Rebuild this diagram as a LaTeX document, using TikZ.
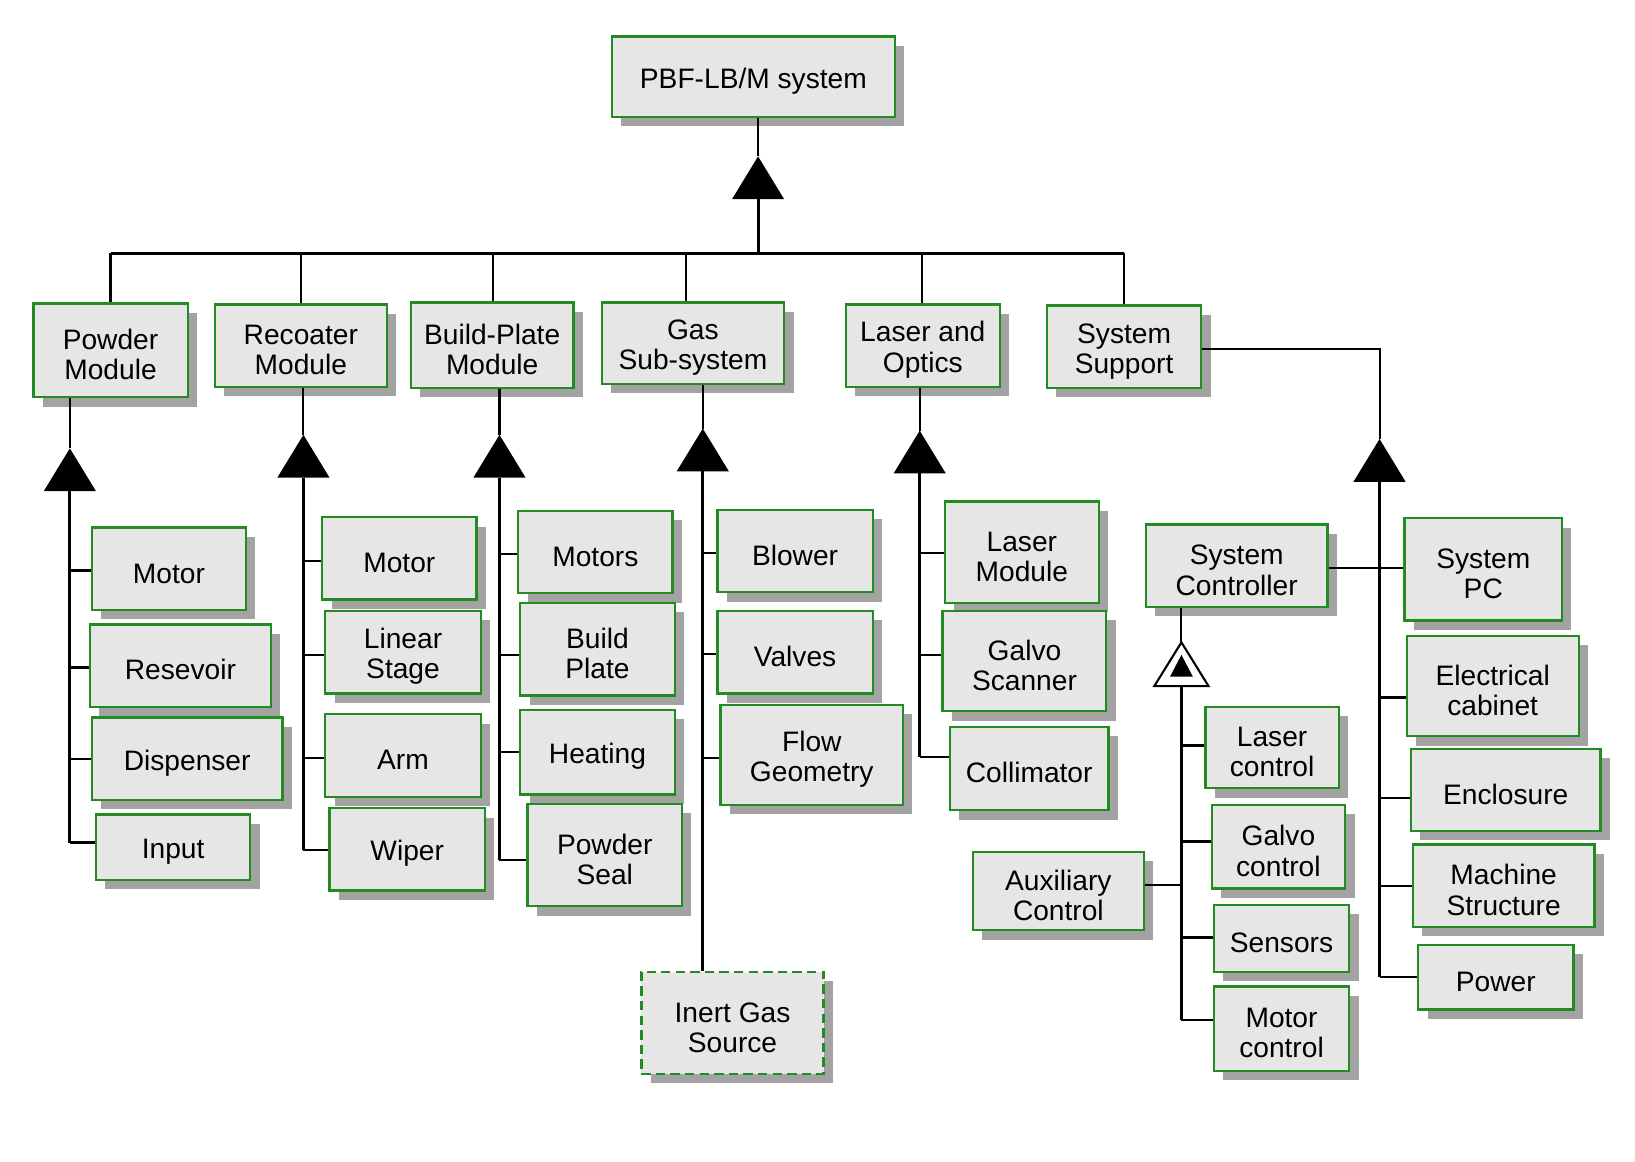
\documentclass[tikz,border=0pt]{standalone}
\usepackage{fontspec}
\setmainfont{Liberation Sans}
\usetikzlibrary{shadows}
\definecolor{boxfill}{HTML}{E6E6E6}
\definecolor{boxline}{RGB}{34,139,34}
\definecolor{shade}{HTML}{A3A3A3}
\newcommand\solidtri[1]{\fill (#1) -- ++(-25,41) -- ++(50,0) -- cycle;}
\newcommand\st{\rule{0pt}{27.5bp}}
\begin{document}
\begin{tikzpicture}[x=1bp,y=-1bp,
  box/.style={draw=boxline, line width=2.2bp, fill=boxfill, inner sep=0pt, align=center,
    font=\fontsize{27bp}{29bp}\selectfont,
    general shadow={shadow xshift=9bp, shadow yshift=-9bp, fill=shade, draw=none}},
  wh/.style 2 args={minimum width=#1bp, minimum height=#2bp},
  dashbox/.style={dash pattern=on 9bp off 5bp, line width=2.5bp},
  bus/.style={line width=3bp, black},
  spine/.style={line width=2.8bp, black},
  branch/.style={line width=2.2bp, black},
  conn/.style={line width=2bp, black}]
\useasboundingbox (0,0) rectangle (1568,1114);

% ---------- nodes ----------
\node[box,wh={271}{77}] (top) at (722.5,73.5) {\st PBF-LB/M system};

\node[box,wh={148}{90}] (pm) at (106,336) {\st Powder\\Module};
\node[box,wh={165}{79}] (rm) at (288.5,331.5) {\st Recoater\\Module};
\node[box,wh={156}{82}] (bm) at (472,331) {\st Build-Plate\\Module};
\node[box,wh={175}{78}] (gs) at (664.5,329) {\st Gas\\Sub-system};
\node[box,wh={148}{79}] (lo) at (885,331.5) {\st Laser and\\Optics};
\node[box,wh={148}{79}] (ss) at (1078,332.5) {\st System\\Support};

\node[box,wh={148}{79}] (pm1) at (162,545.5) {\st Motor};
\node[box,wh={174}{79}] (pm2) at (173,638.5) {\st Resevoir};
\node[box,wh={183}{79}] (pm3) at (179.5,727.5) {\st Dispenser};
\node[box,wh={148}{63}] (pm4) at (166,812.5) {\st Input};

\node[box,wh={148}{79}] (rm1) at (383,535.5) {\st Motor};
\node[box,wh={149}{79}] (rm2) at (386.5,625.5) {\st Linear\\Stage};
\node[box,wh={149}{79}] (rm3) at (386.5,724.5) {\st Arm};
\node[box,wh={149}{79}] (rm4) at (390.5,814.5) {\st Wiper};

\node[box,wh={148}{79}] (bm1) at (571,529.5) {\st Motors};
\node[box,wh={148}{89}] (bm2) at (573,622.5) {\st Build\\Plate};
\node[box,wh={148}{81}] (bm3) at (573,721.5) {\st Heating};
\node[box,wh={148}{98}] (bm4) at (580,820) {\st Powder\\Seal};

\node[box,wh={149}{79}] (gs1) at (762.5,528.5) {\st Blower};
\node[box,wh={149}{79}] (gs2) at (762.5,625.5) {\st Valves};
\node[box,wh={175}{96}] (gs3) at (778.5,724) {\st Flow\\Geometry};
\node[box,dashbox,wh={175}{98}] (gs4) at (702.5,981) {\st Inert Gas\\Source};

\node[box,wh={148}{97}] (lo1) at (980,529.5) {\st Laser\\Module};
\node[box,wh={157}{96}] (lo2) at (982.5,634) {\st Galvo\\Scanner};
\node[box,wh={152}{80}] (lo3) at (987,737) {\st Collimator};

\node[box,wh={151}{98}] (ss1) at (1422.5,546) {\st System\\PC};
\node[box,wh={165}{96}] (ss2) at (1431.5,658) {\st Electrical\\cabinet};
\node[box,wh={182}{79}] (ss3) at (1444,757.5) {\st Enclosure};
\node[box,wh={174}{79}] (ss4) at (1442,849.5) {\st Machine\\Structure};
\node[box,wh={149}{62}] (ss5) at (1434.5,937) {\st Power};
\node[box,wh={174}{79}] (sc) at (1186,542.5) {\st System\\Controller};

\node[box,wh={128}{78}] (sc1) at (1220,717) {\st Laser\\control};
\node[box,wh={128}{80}] (sc2) at (1226,812) {\st Galvo\\control};
\node[box,wh={130}{64}] (sc3) at (1229,900) {\st Sensors};
\node[box,wh={130}{81}] (sc4) at (1229,986.5) {\st Motor\\control};
\node[box,wh={164}{75}] (ac) at (1015,854.5) {\st Auxiliary\\Control};

% ---------- top level ----------
\coordinate (tT) at (727,150);
\coordinate (bT) at (727,191);
\coordinate (busL) at (106,243);
\coordinate (busR) at (1078,243);
\draw[conn] (top.south -| tT) -- (tT);
\solidtri{tT}
\draw[bus] (bT) -- (bT |- busL);
\draw[bus] (busL) -- (busR);
\draw[conn] (busL) -- (pm.north);
\draw[conn] (289,243) -- (289,243 |- rm.north);
\draw[conn] (473,243) -- (473,243 |- bm.north);
\draw[conn] (658,243) -- (658,243 |- gs.north);
\draw[conn] (884,243) -- (884,243 |- lo.north);
\draw[conn] (busR) -- (ss.north);

% ---------- Powder Module ----------
\coordinate (tP) at (67,430);
\coordinate (bP) at (67,471);
\draw[conn] (pm.south -| tP) -- (tP);
\solidtri{tP}
\draw[spine] (bP) -- (bP |- 0,808);
\foreach \n/\yy in {pm1/547, pm2/640, pm3/728, pm4/808}
  \draw[branch] (bP |- 0,\yy) -- (\n.west |- 0,\yy);

% ---------- Recoater Module ----------
\coordinate (tR) at (291,417);
\coordinate (bR) at (291,458);
\draw[conn] (rm.south -| tR) -- (tR);
\solidtri{tR}
\draw[spine] (bR) -- (bR |- 0,815);
\foreach \n/\yy in {rm1/538, rm2/628, rm3/727, rm4/815}
  \draw[branch] (bR |- 0,\yy) -- (\n.west |- 0,\yy);

% ---------- Build-Plate Module ----------
\coordinate (tB) at (479,417);
\coordinate (bB) at (479,458);
\draw[conn] (bm.south -| tB) -- (tB);
\solidtri{tB}
\draw[spine] (bB) -- (bB |- 0,825);
\foreach \n/\yy in {bm1/531, bm2/628, bm3/721, bm4/825}
  \draw[branch] (bB |- 0,\yy) -- (\n.west |- 0,\yy);

% ---------- Gas Sub-system ----------
\coordinate (tG) at (674,411);
\coordinate (bG) at (674,452);
\draw[conn] (gs.south -| tG) -- (tG);
\solidtri{tG}
\draw[spine] (bG) -- (gs4.north -| bG);
\foreach \n/\yy in {gs1/530, gs2/627, gs3/727}
  \draw[branch] (bG |- 0,\yy) -- (\n.west |- 0,\yy);

% ---------- Laser and Optics ----------
\coordinate (tL) at (882,413);
\coordinate (bL) at (882,454);
\draw[conn] (lo.south -| tL) -- (tL);
\solidtri{tL}
\draw[spine] (bL) -- (bL |- 0,726);
\foreach \n/\yy in {lo1/530, lo2/628, lo3/726}
  \draw[branch] (bL |- 0,\yy) -- (\n.west |- 0,\yy);

% ---------- System Support ----------
\coordinate (tS) at (1323,421);
\coordinate (bS) at (1323,462);
\draw[conn] (ss.east |- 0,335) -| (tS);
\solidtri{tS}
\draw[spine] (bS) -- (bS |- 0,937);
\draw[branch] (sc.east |- 0,545) -- (ss1.west |- 0,545);
\foreach \n/\yy in {ss2/669, ss3/765, ss4/850, ss5/937}
  \draw[branch] (bS |- 0,\yy) -- (\n.west |- 0,\yy);

% ---------- System Controller ----------
\coordinate (tC) at (1133,616);
\coordinate (bC) at (1133,658);
\draw[conn] (sc.south -| tC) -- (tC);
\filldraw[fill=white, draw=black, line width=2bp, line join=miter] (tC) -- ++(-26,42) -- ++(52,0) -- cycle;
\fill (1133,628) -- (1122,649) -- (1144,649) -- cycle;
\draw[spine] (bC) -- (bC |- 0,978);
\foreach \n/\yy in {sc1/715, sc2/807, sc3/899, sc4/978}
  \draw[branch] (bC |- 0,\yy) -- (\n.west |- 0,\yy);
\draw[branch] (bC |- 0,849) -- (ac.east |- 0,849);
\end{tikzpicture}
\end{document}
